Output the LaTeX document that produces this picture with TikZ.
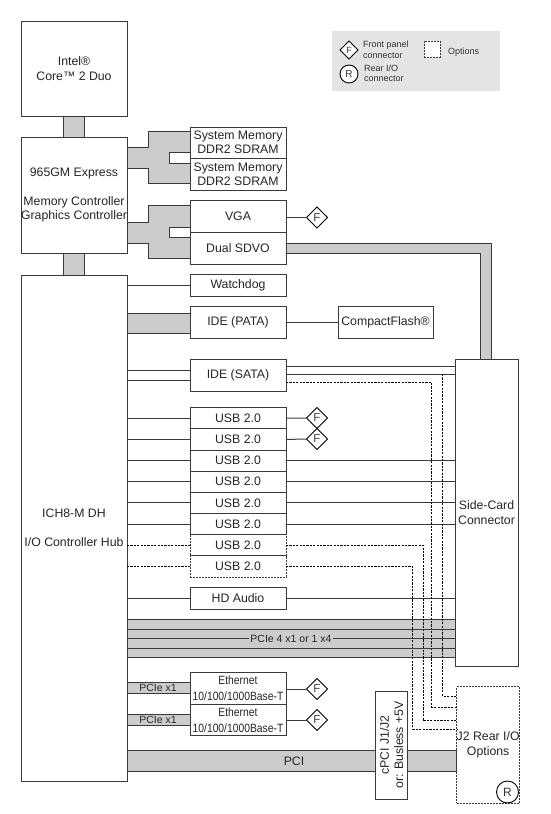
\documentclass[tikz,border=0pt]{standalone}
\usepackage{fontspec}
\setmainfont{Liberation Sans}
\newfontfamily\narrowf[FakeStretch=0.86]{Liberation Sans}
\usetikzlibrary{backgrounds,shapes.geometric}
\definecolor{band}{HTML}{CCCCCC}
\definecolor{ink}{HTML}{3A3A3A}
\definecolor{legendbg}{HTML}{E4E4E4}
\tikzset{
  txt/.style={font=\fontsize{12.3}{14.3}\selectfont,align=center,text=black!85},
  box/.style={draw=ink,line width=1pt,fill=white,inner sep=0pt,outer sep=0pt,txt},
  optbox/.style={box,dashed,dash pattern=on 2pt off 1pt,line width=0.9pt},
  wire/.style={draw=ink,line width=1pt},
  dwire/.style={draw=black,line width=0.8pt,dash pattern=on 2.2pt off 1.2pt},
  bandfill/.style={fill=band,draw=ink,line width=1pt},
  dia/.style={diamond,draw=black,line width=0.9pt,fill=white,inner sep=0pt,outer sep=0pt,minimum size=21pt,font=\fontsize{11.5}{12}\selectfont,text=black!75},
  legdia/.style={dia,minimum size=18pt,font=\fontsize{9}{10}\selectfont},
  circ/.style={circle,draw=black,line width=0.9pt,fill=white,inner sep=0pt,outer sep=0pt,font=\fontsize{10}{11}\selectfont,text=black!80},
  leg/.style={font=\fontsize{9}{10.5}\selectfont,align=left,anchor=west,inner sep=0pt,text=black!80},
  small/.style={font=\fontsize{10.5}{12}\selectfont,text=black!85,inner sep=1pt},
}
\newcommand{\bx}[7][box]{\node[#1,anchor=north west,minimum width={#5-#3},minimum height={#6-#4}] (#2) at (#3,#4) {#7};}
\begin{document}
\begin{tikzpicture}[x=1pt,y=-1pt]
\useasboundingbox (0,0) rectangle (550,814);
% legend
\node[fill=legendbg,inner sep=0pt,anchor=north west,minimum width=168pt,minimum height=60pt] (legend) at (332,31) {};
\node[legdia] (lf) at (349,50) {F};
\node[circ,minimum size=18pt] (lr) at (349,74) {R};
\node[leg] (lft) at (363,50) {Front panel\\connector};
\node[leg] (lrt) at (364,73.5) {Rear I/O\\connector};
\bx[optbox]{lo}{424}{41}{440}{57}{}
\node[leg] (lot) at (448,52) {Options};
% main blocks
\bx{cpu}{21}{21}{127}{116}{Intel®\\Core™ 2 Duo}
\bx{mch}{21}{137}{127}{253}{965GM Express\\[14.3pt]Memory Controller\\Graphics Controller}
\bx{ich}{21}{275}{127}{781}{ICH8-M DH\\[14.3pt]I/O Controller Hub}
\bx{mema}{190}{127}{286}{158}{System Memory\\DDR2 SDRAM}
\bx{memb}{190}{158}{286}{190}{System Memory\\DDR2 SDRAM}
\bx{vga}{190}{200.5}{286}{232}{VGA}
\bx{sdvo}{190}{232}{286}{264}{Dual SDVO}
\bx{wd}{190}{274.5}{286}{296}{Watchdog}
\bx{pata}{190}{306}{286}{338}{IDE (PATA)}
\bx{cf}{338}{306}{433}{338}{CompactFlash®}
\bx{sata}{190}{359}{286}{391}{IDE (SATA)}
\bx{ua}{190}{407.7}{286}{428.7}{USB 2.0}
\bx{ub}{190}{428.7}{286}{450}{USB 2.0}
\bx{uc}{190}{450}{286}{471}{USB 2.0}
\bx{ud}{190}{471}{286}{492.3}{USB 2.0}
\bx{ue}{190}{492.3}{286}{513.3}{USB 2.0}
\bx{uf}{190}{513.3}{286}{534.7}{USB 2.0}
\bx[optbox]{ug}{190}{534.7}{286}{555.7}{USB 2.0}
\bx[optbox]{uh}{190}{555.7}{286}{577}{USB 2.0}
\bx{hd}{190}{587}{286}{609}{HD Audio}
\bx[box,font=\narrowf\fontsize{12}{16}\selectfont]{etha}{190}{672.3}{286}{704}{Ethernet\\10/100/1000Base-T}
\bx[box,font=\narrowf\fontsize{12}{16}\selectfont]{ethb}{190}{704}{286}{735.7}{Ethernet\\10/100/1000Base-T}
\bx{side}{455}{359}{518}{666}{Side-Card\\Connector}
\bx[optbox]{j2}{456.7}{686.7}{518}{803}{J2 Rear I/O\\Options}
\node[box,anchor=center,minimum width=108pt,minimum height=31.5pt,rotate=90] (cpci) at (391.5,745) {cPCI J1/J2\\or: Busless +5V};
\node[circ,minimum size=22pt,font=\fontsize{12}{13}\selectfont] (rc) at (507.5,792) {R};
% diamonds
\node[dia] (fv) at (317,217.5) {F};
\node[dia] (fa) at (317,418) {F};
\node[dia] (fb) at (317,439) {F};
\node[dia] (fe) at (317,689) {F};
\node[dia] (ff) at (317,720) {F};
% wide grey links
\begin{scope}[on background layer]
\path[bandfill] (cpu.south -| 63.5,0) rectangle (mch.north -| 84.5,0);
\path[bandfill] (mch.south -| 63.5,0) rectangle (ich.north -| 84.5,0);
\path[bandfill] (mch.east |- 0,147.5) -- (148,147.5) -- (148,131) -- (mema.west |- 0,131) -- (mema.west |- 0,152) -- (169,152) -- (169,163) -- (memb.west |- 0,163) -- (memb.west |- 0,183.5) -- (148,183.5) -- (148,168.5) -- (mch.east |- 0,168.5) -- cycle;
\path[bandfill] (mch.east |- 0,222.5) -- (148,222.5) -- (148,205.5) -- (vga.west |- 0,205.5) -- (vga.west |- 0,227) -- (169,227) -- (169,237.5) -- (sdvo.west |- 0,237.5) -- (sdvo.west |- 0,258.5) -- (148,258.5) -- (148,243.5) -- (mch.east |- 0,243.5) -- cycle;
\path[bandfill] (sdvo.east |- 0,243) -- (491,243) -- (491,0 |- side.north) -- (480,0 |- side.north) -- (480,253.5) -- (sdvo.east |- 0,253.5) -- cycle;
\path[bandfill] (ich.east |- 0,313) rectangle (pata.west |- 0,333.5);
\path[bandfill] (ich.east |- 0,619.3) rectangle (side.west |- 0,657.3);
\path[bandfill] (ich.east |- 0,682.7) rectangle (etha.west |- 0,693.3);
\path[bandfill] (ich.east |- 0,714.3) rectangle (ethb.west |- 0,725);
\path[bandfill] (ich.east |- 0,750) rectangle (j2.west |- 0,771.7);
\end{scope}
% thin links
\draw[wire] (fv) -- (fv -| vga.east);
\draw[wire] (wd.west -| ich.east) -- (wd.west);
\draw[wire] (pata.east) -- (cf.west);
\draw[wire] (sata.west |- 0,370) -- (ich.east |- 0,370);
\draw[wire] (sata.west |- 0,380) -- (ich.east |- 0,380);
\draw[wire] (sata.east |- 0,366) -- (side.west |- 0,366);
\draw[wire] (sata.east |- 0,374) -- (side.west |- 0,374);
\foreach \u in {ua,ub,uc,ud,ue,uf,hd} \draw[wire] (\u.west -| ich.east) -- (\u.west);
\foreach \u in {uc,ud,ue,uf,hd} \draw[wire] (\u.east) -- (\u.east -| side.west);
\draw[wire] (ua.east) -- (fa);
\draw[wire] (ub.east) -- (fb);
\draw[wire] (fe -| etha.east) -- (fe);
\draw[wire] (ff -| ethb.east) -- (ff);
% optional links
\draw[dwire] (ug.west -| ich.east) -- (ug.west);
\draw[dwire] (uh.west -| ich.east) -- (uh.west);
\draw[dwire] (442.7,374) -- (442.7,696) -- (j2.west |- 0,696);
\draw[dwire] (sata.east |- 0,382.5) -- (431.7,382.5) -- (431.7,707) -- (j2.west |- 0,707);
\draw[dwire] (ug.east) -- (423,0 |- ug.east) -- (423,720.7) -- (j2.west |- 0,720.7);
\draw[dwire] (uh.east) -- (412.7,0 |- uh.east) -- (412.7,729) -- (j2.west |- 0,729);
% PCIe x4 lanes
\draw[wire] (ich.east |- 0,629) -- (side.west |- 0,629);
\draw[wire] (ich.east |- 0,648) -- (side.west |- 0,648);
\draw[wire] (ich.east |- 0,638.5) -- (side.west |- 0,638.5);
\node[small,fill=band] (pcie4) at (291,638.5) {PCIe 4 x1 or 1 x4};
\node[small] (pxa) at (158,688) {PCIe x1};
\node[small] (pxb) at (158,719.5) {PCIe x1};
\node[txt] (pci) at (294,761) {PCI};
\end{tikzpicture}
\end{document}
